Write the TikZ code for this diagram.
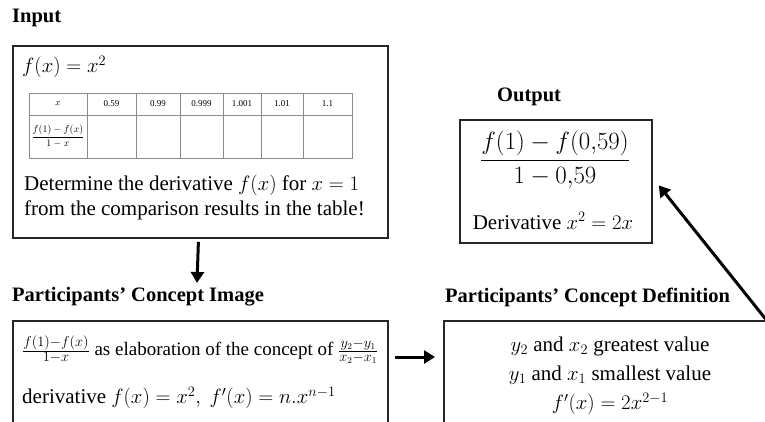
\documentclass[tikz,border=0pt]{standalone}
\usepackage{amsmath}
\usepackage{fontspec}
\setmainfont{Liberation Serif}
\usetikzlibrary{matrix,arrows.meta,calc}
\definecolor{frame-gray}{gray}{0.15}
\definecolor{grid-gray}{gray}{0.55}

\begin{document}
\begin{tikzpicture}[x=1pt,y=-1pt,
  box/.style={draw=frame-gray,line width=1.8pt,anchor=north west,inner sep=0pt},
  title/.style={anchor=west,font=\fontsize{20.5}{24}\selectfont\bfseries,inner sep=0pt},
  body/.style={font=\fontsize{21}{25}\selectfont,inner sep=0pt},
  small body/.style={font=\fontsize{19}{25}\selectfont,inner sep=0pt},
  arr/.style={line width=3pt,-{Triangle[length=11pt,width=13pt]}},
  grid/.style={matrix of nodes,anchor=north west,column sep=-0.8pt,row sep=-0.8pt,
    nodes={draw=grid-gray,line width=0.8pt,font=\fontsize{9}{10}\selectfont,inner sep=0pt,
      anchor=center,minimum height=22pt},
    nodes in empty cells}]
  \useasboundingbox (0,0) rectangle (765,422);
  \clip (0,0) rectangle (765,422);

  % titles
  \node[title] (intitle) at (12,18) {Input};
  \node[title] (outtitle) at (497,97) {Output};
  \node[title] (imgtitle) at (12,297) {Participants’ Concept Image};
  \node[title] (deftitle) at (445,297) {Participants’ Concept Definition};

  % boxes
  \node[box,minimum width=375pt,minimum height=192pt] (input) at (12,45) {};
  \node[box,minimum width=192pt,minimum height=123pt] (output) at (459,119) {};
  \node[box,minimum width=375pt,minimum height=130pt] (image) at (12,320) {};
  \node[box,minimum width=340pt,minimum height=130pt] (definition) at (443,320) {};

  % input
  \node[body,anchor=west] (fx) at (22,67) {$f(x)=x^2$};
  \matrix (table) [grid,
    column 1/.style={nodes={minimum width=58pt}},
    column 2/.style={nodes={minimum width=49pt}},
    column 3/.style={nodes={minimum width=44pt}},
    column 4/.style={nodes={minimum width=43pt}},
    column 5/.style={nodes={minimum width=38pt}},
    column 6/.style={nodes={minimum width=42pt}},
    column 7/.style={nodes={minimum width=49pt}},
    row 2/.style={nodes={minimum height=43pt}}] at (25,89)
  {
  $x$ & 0.59 & 0.99 & 0.999 & 1.001 & 1.01 & 1.1 \\
  {\fontsize{10}{11}\selectfont$\dfrac{f(1)-f(x)}{1-x}$} & & & & & & \\
  };
  \node[body,anchor=north west,align=left] (task) at (24,175)
    {Determine the derivative $f(x)$ for $x=1$\\from the comparison results in the table!};

  % output
  \node[body,font=\fontsize{23}{28}\selectfont] (frac) at (555,160) {$\dfrac{f(1)-f(0{,}59)}{1-0{,}59}$};
  \node[body] (deriv) at (553,221) {Derivative $x^2=2x$};

  % concept image
  \node[small body,anchor=west] (elab) at (22,350)
    {$\frac{f(1)-f(x)}{1-x}$ as elaboration of the concept of $\frac{y_2-y_1}{x_2-x_1}$};
  \node[body,anchor=west] (rule) at (22,398)
    {derivative $f(x)=x^2,\ f'(x)=n.x^{n-1}$};

  % concept definition
  \node[body,align=center,font=\fontsize{21}{29}\selectfont] (defs) at (610,376)
    {$y_2$ and $x_2$ greatest value\\$y_1$ and $x_1$ smallest value\\$f'(x)=2x^{2-1}$};

  % arrows
  \coordinate (downend) at (197,283);
  \coordinate (corner) at (768,322);
  \draw[arr] ($(input.south)+(-2,3)$) -- (downend);
  \draw[arr] ($(image.north east)+(6,37)$) -- ($(definition.north west)+(-8,37)$);
  \draw[arr] (corner) -- ($(output.east)+(6,4)$);
\end{tikzpicture}
\end{document}
